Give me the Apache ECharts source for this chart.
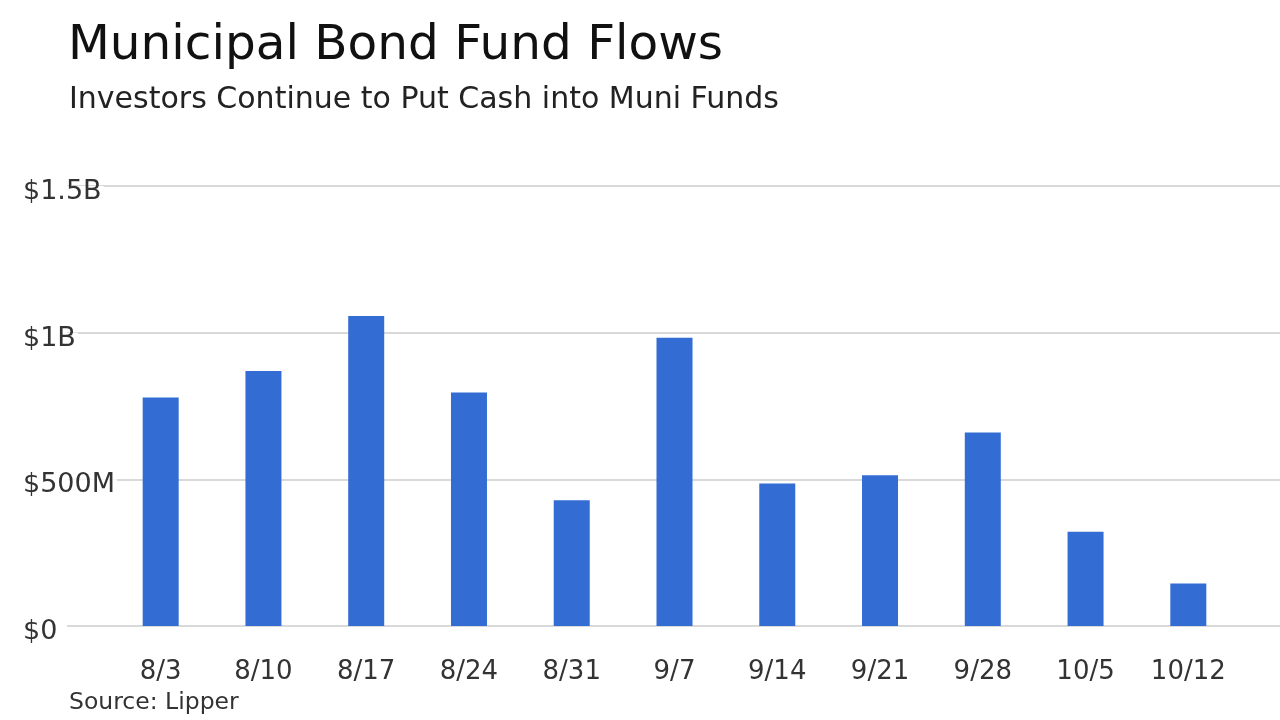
<!DOCTYPE html>
<html>
<head>
<meta charset="utf-8">
<script src="https://cdn.jsdelivr.net/npm/echarts@6/dist/echarts.min.js"></script>
<style>
html,body{margin:0;padding:0;background:#fff;}
#chart{width:1280px;height:720px;}
</style>
</head>
<body>
<div id="chart"></div>
<script>
// Data (values in billions of dollars)
const categories = ['8/3','8/10','8/17','8/24','8/31','9/7','9/14','9/21','9/28','10/5','10/12'];
const flows = [0.779, 0.869, 1.057, 0.796, 0.429, 0.983, 0.486, 0.514, 0.660, 0.321, 0.145];
const yTicks = [0, 0.5, 1, 1.5];
const yTickLabels = ['$0', '$500M', '$1B', '$1.5B'];

const FONT = '"DejaVu Sans", Verdana, sans-serif';
const chart = echarts.init(document.getElementById('chart'));

function fmt(v) {
  const i = yTicks.findIndex(t => Math.abs(t - v) < 1e-9);
  return i >= 0 ? yTickLabels[i] : '';
}

chart.setOption({
  backgroundColor: '#fff',
  animation: false,
  title: [
    { text: 'Municipal Bond Fund Flows', left: 63, top: 17,
      textStyle: { fontFamily: FONT, fontSize: 48.5, fontWeight: 'normal', color: '#111' } },
    { text: 'Investors Continue to Put Cash into Muni Funds', left: 64, top: 80,
      textStyle: { fontFamily: FONT, fontSize: 30, fontWeight: 'normal', color: '#222' } },
    { text: 'Source: Lipper', left: 64, top: 686,
      textStyle: { fontFamily: FONT, fontSize: 23.5, fontWeight: 'normal', color: '#333' } }
  ],
  grid: [
    { left: 67, right: 0, top: 186, bottom: 94 },
    { left: 109.3, right: 40.3, top: 186, bottom: 94 }
  ],
  xAxis: [
    { type: 'value', gridIndex: 0, show: false, min: 0, max: 1 },
    { type: 'category', gridIndex: 1, data: categories,
      axisLine: { show: false }, axisTick: { show: false },
      axisLabel: { fontFamily: FONT, fontSize: 26, color: '#333', margin: 33 } }
  ],
  yAxis: [
    { type: 'value', gridIndex: 0, min: 0, max: 1.5, interval: 0.5,
      axisLine: { show: false }, axisTick: { show: false },
      splitLine: { lineStyle: { color: '#cccccc', width: 1.5 } },
      axisLabel: { fontFamily: FONT, fontSize: 27, color: '#333', align: 'left', margin: 44,
        verticalAlign: 'top', lineHeight: 12, padding: [0, 2, 0, 0], backgroundColor: '#fff',
        formatter: fmt } },
    { type: 'value', gridIndex: 1, min: 0, max: 1.5, interval: 0.5, show: false,
      splitLine: { show: false } }
  ],
  series: [
    { type: 'bar', xAxisIndex: 1, yAxisIndex: 1, data: flows, barWidth: 36,
      itemStyle: { color: '#336cd3' }, z: 3 }
  ]
});
</script>
</body>
</html>
